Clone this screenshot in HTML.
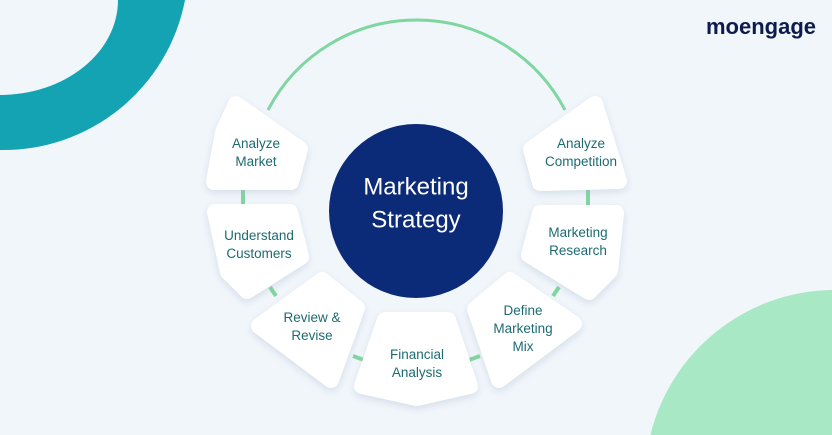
<!DOCTYPE html>
<html><head><meta charset="utf-8"><style>
html,body{margin:0;padding:0;width:832px;height:435px;overflow:hidden}
body{background:#f1f6fb;position:relative;font-family:"Liberation Sans",sans-serif}
svg{position:absolute;left:0;top:0;display:block}
.lbl{position:absolute;color:#1d6b72;font-size:13.5px;line-height:18px;text-align:center;width:120px}
</style></head><body>
<svg width="832" height="435" viewBox="0 0 832 435">
<defs>
<filter id="sh" x="-30%" y="-30%" width="160%" height="160%"><feDropShadow dx="0" dy="3" stdDeviation="4" flood-color="#9fb0c8" flood-opacity="0.35"/></filter>
</defs>
<path d="M0,0 L185,0 A185,185 0 0 1 0,150 Z" fill="#13a3b3"/>
<path d="M0,0 L118,0 A118,95 0 0 1 0,95 Z" fill="#f1f6fb"/>
<path d="M650.4,435 A190,190 0 0 1 832,290 L832,435 Z" fill="#a9e8c4"/>
<path d="M268,110 A167.5,167.5 0 0 1 565,110" fill="none" stroke="#7fd6a0" stroke-width="3"/>
<g stroke="#7fd6a0" stroke-width="4">
<line x1="243" y1="190" x2="243" y2="206"/>
<line x1="270" y1="287" x2="276" y2="296"/>
<line x1="353" y1="356" x2="364" y2="360"/>
<line x1="469" y1="360" x2="480" y2="356"/>
<line x1="559" y1="287" x2="553" y2="296"/>
<line x1="588" y1="190" x2="588" y2="206"/>
</g>
<g fill="#fff" stroke="#fff" stroke-width="16" stroke-linejoin="round" filter="url(#sh)">
<polygon points="236,104 300,149 291,182 214,182 223,132"/>
<polygon points="215,212 290,212 301,257 247,291 228,272"/>
<polygon points="322,280 357,308 331,380 259,326"/>
<polygon points="385,320 448,320 470,386 417,398 362,386"/>
<polygon points="510,280 475,309 499,380 574,324"/>
<polygon points="540,213 616,213 610,271 589,292 529,255"/>
<polygon points="595,104 619,181 540,183 531,149"/>
</g>
<circle cx="416" cy="211" r="87" fill="#0b2a78"/>
<text x="416" y="188" fill="#fff" font-size="24" font-family="Liberation Sans, sans-serif" text-anchor="middle" dominant-baseline="middle">Marketing</text>
<text x="416" y="221" fill="#fff" font-size="24" font-family="Liberation Sans, sans-serif" text-anchor="middle" dominant-baseline="middle">Strategy</text>
<text x="816" y="34" fill="#0e1b4d" font-size="22" font-weight="bold" font-family="Liberation Sans, sans-serif" text-anchor="end">moengage</text>
</svg>
<div class="lbl" style="left:196px;top:135px">Analyze<br>Market</div>
<div class="lbl" style="left:199px;top:227px">Understand<br>Customers</div>
<div class="lbl" style="left:252px;top:309px">Review &amp;<br>Revise</div>
<div class="lbl" style="left:357px;top:346px">Financial<br>Analysis</div>
<div class="lbl" style="left:463px;top:302px">Define<br>Marketing<br>Mix</div>
<div class="lbl" style="left:518px;top:224px">Marketing<br>Research</div>
<div class="lbl" style="left:521px;top:135px">Analyze<br>Competition</div>
</body></html>
